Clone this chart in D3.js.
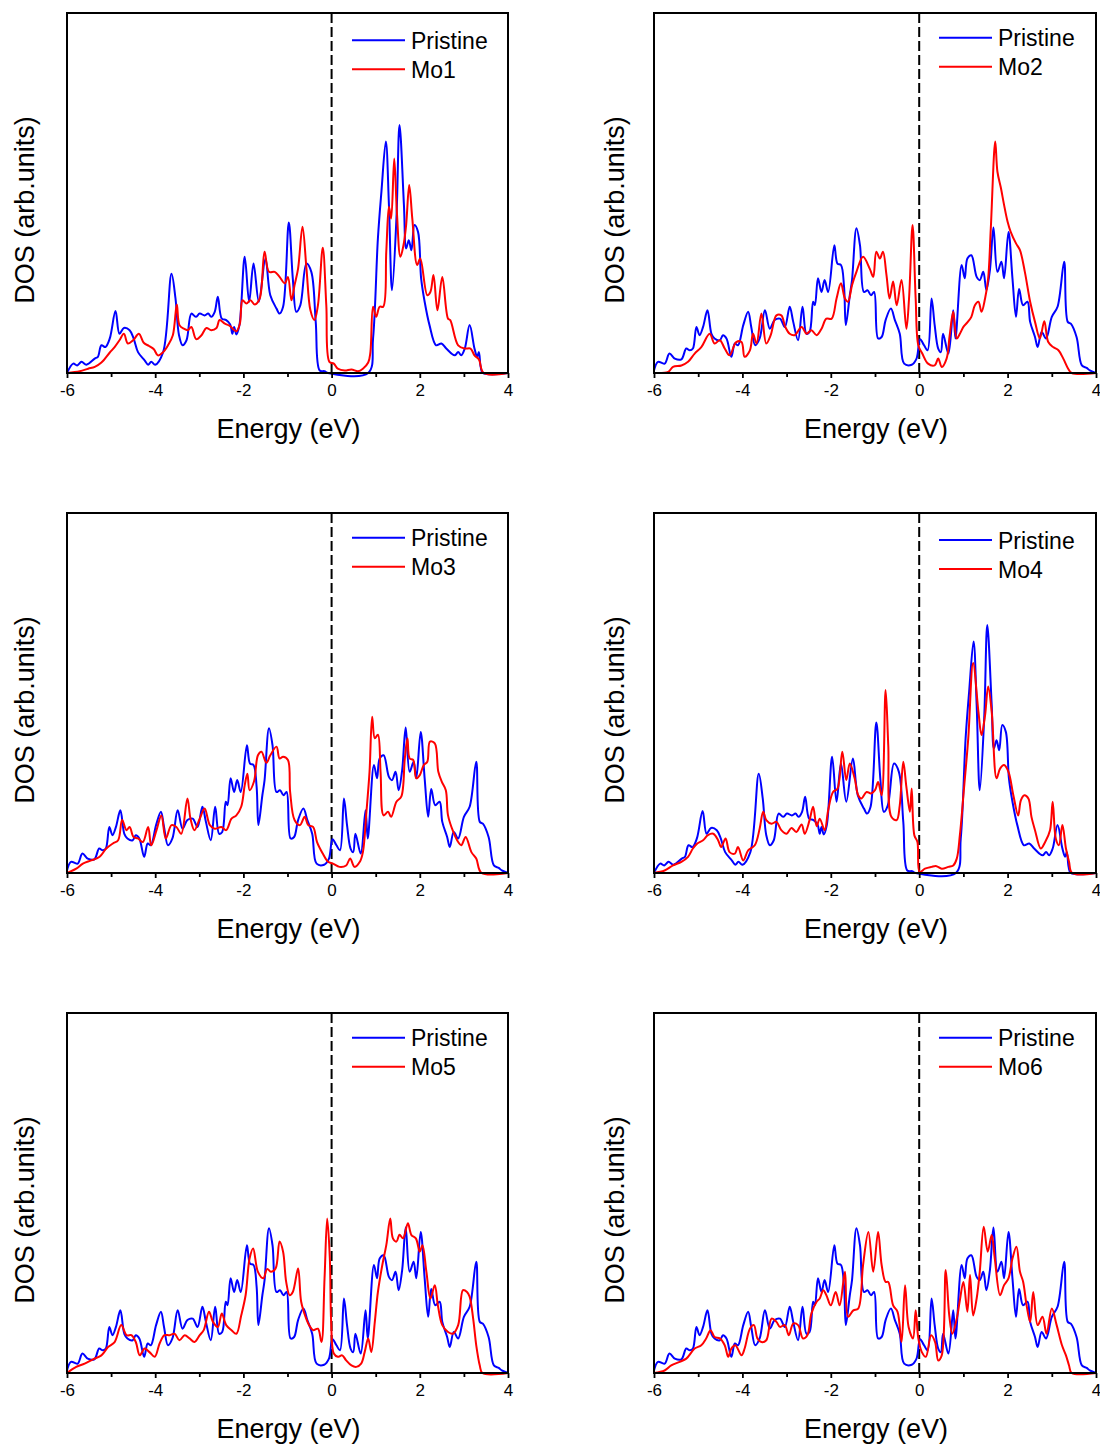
<!DOCTYPE html>
<html>
<head>
<meta charset="utf-8">
<script src="https://cdn.jsdelivr.net/npm/d3@7"></script>
<style>
  html, body { margin: 0; padding: 0; background: #fff; }
  svg { display: block; }
  text { font-family: "Liberation Sans", Arial, sans-serif; fill: #000; }
</style>
</head>
<body>
<svg id="chart" width="1100" height="1449"></svg>
<script>
// ---------------- DATA ----------------
const majorTicks = [-6, -4, -2, 0, 2, 4];
const minorTicks = [-5, -3, -1, 1, 3];
const xLabel = "Energy (eV)";
const yLabel = "DOS (arb.units)";
const seriesNames = ["Pristine", "Mo1", "Mo2", "Mo3", "Mo4", "Mo5", "Mo6"];

// Pristine DOS used in panels Mo1 and Mo4  [energy, DOS]
const pristineA = [[-6.00,0],[-5.86,2.6],[-5.77,2.1],[-5.67,3.1],[-5.56,2.3],[-5.37,4.0],[-5.30,4.5],[-5.22,7.7],[-5.13,7.2],[-5.03,9.6],[-4.90,17.2],[-4.81,10.9],[-4.71,12.5],[-4.58,11.9],[-4.49,9.6],[-4.39,5.8],[-4.24,3.5],[-4.16,2.3],[-4.09,3.1],[-4.00,2.3],[-3.82,5.8],[-3.63,27.6],[-3.54,20.7],[-3.46,10.5],[-3.38,7.7],[-3.29,9.1],[-3.18,16.5],[-3.08,15.6],[-2.99,16.5],[-2.88,16.0],[-2.80,16.5],[-2.73,15.6],[-2.65,17.0],[-2.58,21.2],[-2.49,15.1],[-2.39,14.7],[-2.30,13.5],[-2.25,10.9],[-2.21,12.8],[-2.16,10.7],[-2.09,13.3],[-1.97,32.3],[-1.87,19.8],[-1.77,30.4],[-1.65,19.8],[-1.50,31.8],[-1.39,21.6],[-1.25,17.9],[-1.18,16.5],[-1.10,18.4],[-0.97,41.8],[-0.88,26.3],[-0.80,17.0],[-0.71,18.8],[-0.57,30.4],[-0.46,28.1],[-0.36,14.2],[-0.27,0.7],[-0.16,0.5],[-0.08,0],[0.83,0],[0.94,9.6],[1.05,37.4],[1.13,50.4],[1.23,64.3],[1.30,46.7],[1.37,23.0],[1.47,42.9],[1.54,68.9],[1.64,46.7],[1.69,34.6],[1.75,36.9],[1.81,34.1],[1.88,41.1],[1.96,39.2],[2.03,26.3],[2.11,19.8],[2.22,13.3],[2.37,7.7],[2.49,8.2],[2.60,6.8],[2.79,4.9],[2.87,5.8],[2.94,4.9],[3.02,6.8],[3.13,13.3],[3.24,6.8],[3.30,4.5],[3.34,5.8],[3.38,1.7],[3.43,0],[4.00,0]];

// Pristine DOS used in panels Mo2, Mo3, Mo5, Mo6
const pristineB = [[-6.00,0.7],[-5.91,3.1],[-5.76,2.6],[-5.65,5.4],[-5.53,4.0],[-5.38,3.8],[-5.27,6.8],[-5.19,6.3],[-5.12,6.8],[-5.04,12.8],[-4.97,10.5],[-4.89,12.8],[-4.79,17.4],[-4.70,10.9],[-4.63,9.6],[-4.51,9.1],[-4.44,10.5],[-4.36,9.6],[-4.25,4.5],[-4.17,8.2],[-4.10,7.7],[-3.98,13.3],[-3.87,17.0],[-3.80,12.8],[-3.71,7.7],[-3.61,9.6],[-3.49,17.4],[-3.38,12.3],[-3.27,14.7],[-3.15,15.1],[-3.04,12.8],[-2.93,18.4],[-2.85,14.2],[-2.74,9.1],[-2.64,18.4],[-2.55,10.9],[-2.48,11.4],[-2.40,19.8],[-2.36,18.8],[-2.29,26.3],[-2.21,22.5],[-2.14,25.8],[-2.06,22.5],[-1.92,35.5],[-1.85,30.4],[-1.77,30.0],[-1.70,23.9],[-1.66,13.3],[-1.57,21.6],[-1.52,25.8],[-1.42,40.2],[-1.34,35.5],[-1.25,22.5],[-1.17,23.0],[-1.09,21.6],[-1.02,22.5],[-0.93,9.6],[-0.85,10.0],[-0.76,14.7],[-0.64,17.9],[-0.55,14.7],[-0.44,10.9],[-0.34,2.6],[-0.17,2.3],[-0.06,4.0],[0.02,9.4],[0.11,7.7],[0.19,6.3],[0.28,20.7],[0.35,13.3],[0.43,6.8],[0.49,5.8],[0.54,10.9],[0.66,5.4],[0.77,17.4],[0.82,9.6],[0.96,30.0],[1.03,26.3],[1.09,31.8],[1.18,32.7],[1.30,26.7],[1.37,25.8],[1.45,28.1],[1.52,23.0],[1.60,28.6],[1.68,40.4],[1.77,28.1],[1.86,30.9],[1.92,26.3],[2.02,39.2],[2.11,26.3],[2.19,15.6],[2.26,23.3],[2.35,18.8],[2.45,19.8],[2.51,14.2],[2.62,10.0],[2.68,7.2],[2.77,11.4],[2.87,9.6],[3.00,15.6],[3.13,18.4],[3.28,30.9],[3.36,14.2],[3.43,13.7],[3.56,10.0],[3.68,2.1],[3.79,1.4],[3.86,0.7],[4.00,0]];

const mo1 = [[-6.00,0],[-5.71,0.5],[-5.52,1.2],[-5.37,1.7],[-5.22,2.9],[-5.03,5.7],[-4.92,7.2],[-4.81,9.1],[-4.71,10.9],[-4.62,8.2],[-4.50,9.1],[-4.37,10.9],[-4.26,8.4],[-4.14,7.5],[-4.03,6.6],[-3.94,4.9],[-3.82,5.8],[-3.71,7.7],[-3.60,10.5],[-3.51,19.0],[-3.45,13.3],[-3.35,12.3],[-3.26,11.9],[-3.18,12.8],[-3.07,9.4],[-2.95,10.5],[-2.84,12.5],[-2.73,11.9],[-2.61,12.5],[-2.54,14.7],[-2.42,13.7],[-2.31,13.1],[-2.16,11.6],[-2.08,13.7],[-2.02,20.2],[-1.93,19.3],[-1.84,20.2],[-1.74,19.0],[-1.63,20.7],[-1.52,33.7],[-1.42,28.1],[-1.29,28.1],[-1.18,26.7],[-1.06,24.9],[-0.99,26.7],[-0.91,20.2],[-0.84,24.4],[-0.76,29.0],[-0.66,40.6],[-0.57,29.0],[-0.48,17.4],[-0.39,14.7],[-0.31,18.8],[-0.20,34.8],[-0.12,18.8],[-0.05,3.1],[0.05,2.6],[0.14,1.2],[0.30,0.7],[0.45,1.0],[0.60,0.5],[0.71,1.2],[0.83,2.9],[0.88,5.8],[0.94,18.4],[1.01,15.6],[1.09,18.4],[1.17,18.4],[1.24,33.7],[1.30,46.2],[1.35,42.9],[1.42,59.6],[1.48,44.8],[1.56,32.3],[1.63,35.5],[1.69,41.1],[1.76,52.2],[1.83,42.9],[1.94,30.0],[2.01,31.8],[2.17,21.6],[2.24,22.5],[2.31,27.2],[2.40,17.4],[2.51,26.7],[2.64,15.1],[2.69,14.7],[2.87,7.7],[3.02,6.8],[3.15,6.8],[3.24,4.9],[3.34,3.8],[3.45,0],[4.00,0]];

const mo2 = [[-6.00,0],[-5.68,0.3],[-5.57,1.7],[-5.38,2.1],[-5.23,3.1],[-5.08,5.4],[-4.93,7.2],[-4.74,10.9],[-4.63,8.2],[-4.51,9.1],[-4.40,6.8],[-4.29,4.9],[-4.14,8.6],[-4.02,8.6],[-3.95,4.5],[-3.83,6.3],[-3.76,10.9],[-3.68,8.2],[-3.57,16.5],[-3.46,8.2],[-3.36,10.5],[-3.23,16.0],[-3.12,16.0],[-3.03,12.8],[-2.93,10.9],[-2.82,10.5],[-2.66,12.8],[-2.55,10.9],[-2.44,11.9],[-2.32,10.5],[-2.21,12.3],[-2.10,15.1],[-1.98,15.1],[-1.87,20.7],[-1.77,24.9],[-1.68,20.7],[-1.61,19.8],[-1.52,24.4],[-1.42,28.1],[-1.27,32.3],[-1.12,29.0],[-1.04,26.7],[-0.97,33.7],[-0.89,31.8],[-0.82,33.7],[-0.74,27.2],[-0.67,20.7],[-0.59,25.4],[-0.51,18.8],[-0.40,25.8],[-0.29,12.3],[-0.23,20.7],[-0.15,41.1],[-0.08,20.7],[-0.02,7.7],[0.07,5.4],[0.20,2.6],[0.35,2.1],[0.43,4.0],[0.51,1.7],[0.62,4.0],[0.69,10.5],[0.77,17.0],[0.85,9.6],[0.92,10.9],[1.00,12.8],[1.10,14.2],[1.18,15.6],[1.26,18.8],[1.34,19.8],[1.41,17.0],[1.49,20.7],[1.56,26.3],[1.62,40.2],[1.72,64.3],[1.77,55.9],[1.85,51.3],[1.92,46.7],[2.00,42.0],[2.07,39.2],[2.19,36.0],[2.28,34.1],[2.39,28.1],[2.51,19.8],[2.62,14.2],[2.73,9.6],[2.83,14.4],[2.92,8.6],[3.03,7.2],[3.15,6.3],[3.26,4.0],[3.37,1.2],[3.45,0],[4.00,0]];

const mo3 = [[-6.00,0],[-5.79,1.2],[-5.64,2.6],[-5.45,3.5],[-5.26,4.5],[-5.11,6.8],[-4.96,8.2],[-4.84,9.1],[-4.75,14.7],[-4.65,11.9],[-4.58,12.8],[-4.49,10.0],[-4.39,9.6],[-4.28,8.6],[-4.16,12.8],[-4.09,7.7],[-3.97,11.9],[-3.86,16.0],[-3.76,9.6],[-3.63,13.3],[-3.52,12.8],[-3.41,10.9],[-3.27,20.7],[-3.20,15.1],[-3.11,11.9],[-2.99,15.1],[-2.88,17.9],[-2.76,13.3],[-2.65,12.3],[-2.50,12.8],[-2.39,11.9],[-2.27,15.1],[-2.16,16.0],[-2.05,18.4],[-1.97,24.4],[-1.91,27.6],[-1.86,23.0],[-1.76,25.4],[-1.67,32.7],[-1.59,33.7],[-1.48,30.6],[-1.39,32.7],[-1.25,35.1],[-1.18,31.8],[-1.10,32.3],[-0.99,31.4],[-0.94,22.5],[-0.84,14.7],[-0.72,13.3],[-0.61,15.6],[-0.53,13.3],[-0.42,12.8],[-0.33,8.6],[-0.20,5.4],[-0.08,3.1],[0.03,2.6],[0.18,1.7],[0.33,2.1],[0.42,4.0],[0.52,1.7],[0.64,3.1],[0.71,5.8],[0.79,17.0],[0.86,28.1],[0.92,43.4],[0.98,37.4],[1.05,38.4],[1.11,28.1],[1.18,16.0],[1.28,17.0],[1.35,15.6],[1.47,19.8],[1.58,21.2],[1.66,31.8],[1.72,37.4],[1.77,31.8],[1.85,31.4],[1.92,26.3],[2.00,27.2],[2.09,30.0],[2.17,30.9],[2.23,36.5],[2.34,36.0],[2.42,28.1],[2.50,25.3],[2.59,23.0],[2.64,16.0],[2.76,11.4],[2.87,8.6],[2.94,7.7],[3.04,10.0],[3.17,5.8],[3.28,4.0],[3.40,0],[4.00,0]];

const mo4 = [[-6.00,0],[-5.76,0.7],[-5.57,2.1],[-5.38,3.1],[-5.23,4.5],[-5.12,6.8],[-5.02,8.2],[-4.89,9.1],[-4.78,10.5],[-4.66,10.9],[-4.55,9.1],[-4.48,7.2],[-4.38,9.6],[-4.29,5.8],[-4.17,5.4],[-4.10,7.2],[-3.98,3.5],[-3.87,6.3],[-3.72,7.7],[-3.61,12.3],[-3.53,17.0],[-3.46,14.7],[-3.34,13.7],[-3.23,14.2],[-3.12,11.9],[-3.00,10.9],[-2.89,12.5],[-2.78,11.4],[-2.66,13.5],[-2.59,10.9],[-2.48,14.7],[-2.40,18.4],[-2.32,13.0],[-2.25,15.1],[-2.14,11.9],[-2.06,17.4],[-1.95,22.5],[-1.85,23.4],[-1.74,33.7],[-1.65,25.8],[-1.57,30.4],[-1.46,26.3],[-1.38,21.6],[-1.31,20.7],[-1.19,22.5],[-1.09,22.1],[-1.00,23.0],[-0.93,25.3],[-0.85,21.6],[-0.76,50.8],[-0.70,35.5],[-0.63,15.6],[-0.51,14.7],[-0.44,18.8],[-0.36,30.9],[-0.29,23.9],[-0.21,17.0],[-0.17,23.5],[-0.11,10.5],[-0.04,8.6],[0.01,0.3],[0.13,1.2],[0.28,1.7],[0.39,1.9],[0.51,1.2],[0.66,1.7],[0.77,2.1],[0.85,4.0],[0.92,10.5],[1.02,24.4],[1.11,37.4],[1.22,58.3],[1.34,44.8],[1.41,38.3],[1.49,43.8],[1.56,51.8],[1.64,44.8],[1.75,26.3],[1.83,29.0],[1.92,30.0],[2.02,28.1],[2.13,21.6],[2.24,16.0],[2.30,20.2],[2.38,21.6],[2.47,20.7],[2.54,15.6],[2.62,11.9],[2.75,6.8],[2.85,8.6],[2.96,11.9],[3.02,19.8],[3.09,9.6],[3.16,7.7],[3.24,13.3],[3.32,6.8],[3.39,3.1],[3.46,0],[4.00,0]];

const mo5 = [[-6.00,0],[-5.79,1.7],[-5.60,2.6],[-5.41,3.8],[-5.22,4.9],[-5.07,7.2],[-4.92,8.6],[-4.77,13.3],[-4.65,10.5],[-4.54,10.5],[-4.44,8.6],[-4.35,4.9],[-4.24,6.8],[-4.13,5.8],[-4.01,4.5],[-3.90,8.2],[-3.79,10.5],[-3.67,10.5],[-3.56,10.9],[-3.45,9.1],[-3.33,10.5],[-3.22,9.6],[-3.11,8.6],[-2.99,10.5],[-2.90,11.9],[-2.78,17.0],[-2.69,14.2],[-2.58,12.8],[-2.49,16.5],[-2.39,13.3],[-2.27,11.9],[-2.16,10.9],[-2.05,16.0],[-1.95,21.6],[-1.86,31.8],[-1.78,34.6],[-1.67,28.1],[-1.55,26.3],[-1.46,28.9],[-1.37,28.1],[-1.27,29.0],[-1.18,36.5],[-1.10,33.7],[-1.03,25.3],[-0.95,21.6],[-0.88,22.5],[-0.76,29.0],[-0.69,19.8],[-0.59,15.6],[-0.51,13.3],[-0.42,11.9],[-0.31,12.3],[-0.23,8.6],[-0.16,26.3],[-0.10,42.9],[-0.04,31.8],[-0.01,14.2],[0.05,5.4],[0.14,4.5],[0.24,4.9],[0.33,3.5],[0.45,2.1],[0.56,1.7],[0.67,2.6],[0.75,5.8],[0.83,9.6],[0.90,5.8],[0.98,14.2],[1.05,22.5],[1.15,30.0],[1.24,35.5],[1.33,42.9],[1.39,37.4],[1.47,36.5],[1.54,38.4],[1.62,37.4],[1.73,41.6],[1.81,38.3],[1.91,37.4],[2.00,33.7],[2.06,35.5],[2.15,28.1],[2.24,20.7],[2.34,24.4],[2.41,18.8],[2.51,13.3],[2.64,11.4],[2.75,10.9],[2.87,13.3],[2.98,23.0],[3.07,22.5],[3.13,21.2],[3.21,15.1],[3.28,7.7],[3.36,2.1],[3.42,0],[4.00,0]];

const mo6 = [[-6.00,0],[-5.76,0.7],[-5.61,2.1],[-5.42,3.1],[-5.27,4.0],[-5.08,6.8],[-4.93,7.7],[-4.82,9.6],[-4.72,11.9],[-4.63,10.0],[-4.51,9.6],[-4.40,7.7],[-4.32,4.5],[-4.25,6.8],[-4.16,7.7],[-4.02,4.9],[-3.95,6.8],[-3.83,12.3],[-3.74,13.3],[-3.66,9.6],[-3.57,8.6],[-3.46,9.1],[-3.34,15.1],[-3.23,14.2],[-3.15,12.8],[-3.04,13.3],[-2.95,10.5],[-2.85,13.7],[-2.74,13.3],[-2.63,9.6],[-2.53,10.5],[-2.44,16.5],[-2.32,19.8],[-2.25,20.7],[-2.17,23.0],[-2.10,21.6],[-2.00,18.8],[-1.89,22.5],[-1.80,18.8],[-1.68,28.1],[-1.61,15.6],[-1.49,17.4],[-1.38,17.9],[-1.27,30.0],[-1.15,39.2],[-1.04,28.1],[-0.93,39.2],[-0.85,30.0],[-0.76,25.3],[-0.70,25.3],[-0.59,18.8],[-0.49,17.0],[-0.40,8.6],[-0.32,24.4],[-0.24,12.8],[-0.14,9.6],[-0.08,17.4],[-0.02,9.6],[0.06,5.8],[0.15,4.5],[0.27,10.5],[0.36,8.6],[0.43,3.5],[0.51,4.9],[0.60,28.6],[0.68,16.0],[0.75,10.9],[0.85,15.1],[0.92,20.2],[1.00,25.3],[1.09,17.0],[1.15,27.2],[1.22,16.0],[1.30,20.7],[1.37,28.1],[1.46,40.6],[1.55,33.7],[1.64,38.3],[1.71,31.8],[1.83,21.6],[1.92,24.4],[2.02,26.3],[2.11,31.8],[2.20,35.1],[2.28,28.1],[2.35,25.4],[2.43,18.8],[2.51,14.2],[2.58,22.5],[2.68,13.3],[2.79,15.6],[2.88,10.9],[3.00,17.9],[3.11,13.3],[3.23,7.7],[3.32,4.9],[3.39,2.1],[3.45,0],[4.00,0]];

// panel order: [label, pristine set, doped set]
const panels = [
  { name: "Mo1", pristine: pristineA, doped: mo1 },
  { name: "Mo2", pristine: pristineB, doped: mo2 },
  { name: "Mo3", pristine: pristineB, doped: mo3 },
  { name: "Mo4", pristine: pristineA, doped: mo4 },
  { name: "Mo5", pristine: pristineB, doped: mo5 },
  { name: "Mo6", pristine: pristineB, doped: mo6 }
];

// ---------------- LAYOUT ----------------
const colX = [[67, 508], [654, 1096]];
const rowY = [13, 513, 1013];
const plotH = 360;
const legendOffsets = [27.2, 24.7, 24.7, 27, 24.7, 24.7];
const yLabelX = [34, 624];
const blue = "#0000ff", red = "#ff0000";

const svg = d3.select("#chart");

panels.forEach((p, i) => {
  const col = i % 2, row = Math.floor(i / 2);
  const [x0, x1] = colX[col];
  const top = rowY[row], bottom = top + plotH;

  const x = d3.scaleLinear().domain([-6, 4]).range([x0, x1]);
  const y = d3.scaleLinear().domain([0, 100]).range([bottom, top]);

  const g = svg.append("g");

  // dashed Fermi level
  g.append("line")
    .attr("x1", x(0)).attr("x2", x(0))
    .attr("y1", y(100)).attr("y2", y(0))
    .attr("stroke", "#000").attr("stroke-width", 2)
    .attr("stroke-dasharray", "10,4");

  const line = d3.line().x(d => x(d[0])).y(d => y(d[1]))
    .curve(d3.curveCatmullRom.alpha(0.5));

  g.append("path").datum(p.pristine)
    .attr("d", line).attr("fill", "none")
    .attr("stroke", blue).attr("stroke-width", 2)
    .attr("stroke-linejoin", "round");
  g.append("path").datum(p.doped)
    .attr("d", line).attr("fill", "none")
    .attr("stroke", red).attr("stroke-width", 2)
    .attr("stroke-linejoin", "round");

  // bottom axis: major ticks with labels
  const axis = d3.axisBottom(x).tickValues(majorTicks).tickSize(5).tickPadding(6)
    .tickFormat(d => d3.format("d")(d).replace("−", "-"));
  const ag = g.append("g").attr("transform", `translate(0,${bottom})`)
    .attr("font-size", 17).call(axis);
  ag.attr("font-size", 17).attr("font-family", '"Liberation Sans", Arial, sans-serif');
  ag.select(".domain").remove();
  ag.selectAll(".tick line").attr("stroke", "#000").attr("stroke-width", 1.8);
  ag.selectAll(".tick text")
    .attr("font-size", 17)
    .style("font-size", "17px").attr("fill", "#000");

  const mg = g.append("g").attr("transform", `translate(0,${bottom})`)
    .call(d3.axisBottom(x).tickValues(minorTicks).tickSize(4).tickFormat(""));
  mg.select(".domain").remove();
  mg.selectAll(".tick line").attr("stroke", "#000").attr("stroke-width", 1.8);

  // frame
  g.append("rect")
    .attr("x", x0).attr("y", top)
    .attr("width", x1 - x0).attr("height", plotH)
    .attr("fill", "none").attr("stroke", "#000").attr("stroke-width", 2);

  // x label
  g.append("text")
    .attr("x", (x0 + x1) / 2 + 1).attr("y", bottom + 65)
    .attr("text-anchor", "middle")
    .style("font-size", "27px")
    .text(xLabel);

  // y label
  g.append("text")
    .attr("transform", `translate(${yLabelX[col]},${(top + bottom) / 2 + 17}) rotate(-90)`)
    .attr("text-anchor", "middle")
    .style("font-size", "27px")
    .text(yLabel);

  // legend
  const ly = top + legendOffsets[i];
  const items = [{ label: seriesNames[0], color: blue }, { label: p.name, color: red }];
  items.forEach((it, k) => {
    const yy = ly + k * 29;
    g.append("line")
      .attr("x1", x0 + 285).attr("x2", x0 + 338)
      .attr("y1", yy).attr("y2", yy)
      .attr("stroke", it.color).attr("stroke-width", 2);
    g.append("text")
      .attr("x", x0 + 344).attr("y", yy + 8.5)
      .style("font-size", "23px")
      .text(it.label);
  });
});
</script>
</body>
</html>
